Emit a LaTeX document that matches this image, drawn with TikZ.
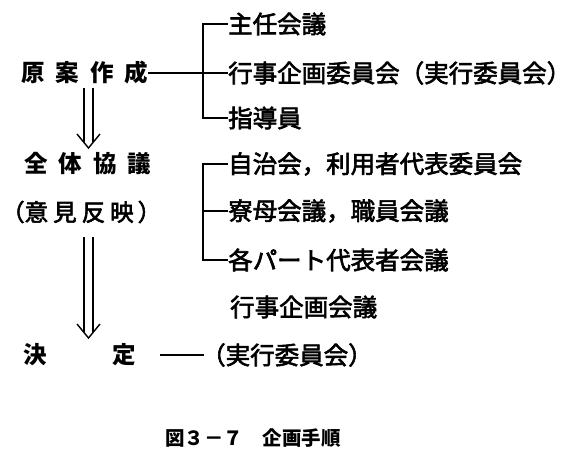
\documentclass[tikz,border=0pt]{standalone}
\usepackage{fontspec}
\newfontfamily\jp{Noto Sans CJK JP}
\newfontfamily\jpm{Noto Sans CJK JP}[FakeBold=2.5]
\newcommand\gapA{\hspace{11pt}}
\newcommand\gapB{\hspace{5pt}}
\newcommand\dblarrow[2]{%
  \draw[dbl] ([xshift=-4.5pt]#1) -- ([xshift=-4.5pt,yshift=5.6pt]#2);
  \draw[dbl] ([xshift=4.5pt]#1) -- ([xshift=4.5pt,yshift=5.6pt]#2);
  \draw[dbl,line join=miter] ([xshift=-11.5pt,yshift=14pt]#2) -- (#2) -- ([xshift=11.5pt,yshift=14pt]#2);}
\begin{document}
\begin{tikzpicture}[x=1pt,y=-1pt,
  head/.style={font=\jp\bfseries\fontsize{23.5}{23.5}\selectfont, inner sep=0pt, anchor=west},
  sub/.style={font=\jpm\fontsize{23.5}{23.5}\selectfont, inner sep=0pt, anchor=west},
  item/.style={font=\jpm\fontsize{24.5}{24.5}\selectfont, inner sep=0pt, anchor=west},
  captxt/.style={font=\jp\bfseries\fontsize{19.5}{19.5}\selectfont, inner sep=0pt},
  ln/.style={line width=1.8pt},
  dbl/.style={line width=1.4pt}]
\useasboundingbox (0,0) rectangle (584,460);
\fill[white] (0,0) rectangle (584,460);

% group 1
\node[head] (gen) at (21,73) {原\gapA 案\gapA 作\gapA 成};
\node[item] (i1) at (228,24) {主任会議};
\node[item] (i2) at (228,73) {行事企画委員会（実行委員会）};
\node[item] (i3) at (228,118) {指導員};
\coordinate (b1t) at (203,24);
\coordinate (b1b) at (203,118);
\draw[ln] (gen.east) -- (i2.west);
\draw[ln] (i1.west) -- (b1t) -- (b1b) -- (i3.west);

% arrow 1
\coordinate (a1top) at (88.5,88);
\coordinate (a1tip) at (88.5,148);
\dblarrow{a1top}{a1tip}

% group 2
\node[head] (zen) at (24,164) {全\gapA 体\gapA 協\gapA 議};
\node[sub] (iken) at (1,212) {（意\gapB 見\gapB 反\gapB 映\hspace{4pt}）};
\node[item] (j1) at (228,164) {自治会，利用者代表委員会};
\node[item] (j2) at (228,211) {寮母会議，職員会議};
\node[item] (j3) at (228,260) {各パート代表者会議};
\coordinate (b2t) at (203,164);
\coordinate (b2b) at (203,260);
\draw[ln] (j1.west) -- (b2t) -- (b2b) -- (j3.west);
\draw[ln] (j2.west) -- (j2.west -| b2t);

% arrow 2
\coordinate (a2top) at (88.5,237);
\coordinate (a2tip) at (88.5,338);
\dblarrow{a2top}{a2tip}

% decision
\node[item] (kikaku) at (230,307) {行事企画会議};
\node[head] (ketsu) at (23,355) {決};
\node[head] (tei) at (112,355) {定};
\node[item] (jikko) at (201,355) {（実行委員会）};
\draw[ln] ([xshift=24pt]tei.east) -- ([xshift=3pt]jikko.west);

% caption
\node[captxt] (captn) at (253,438) {図３－７　企画手順};
\end{tikzpicture}
\end{document}
